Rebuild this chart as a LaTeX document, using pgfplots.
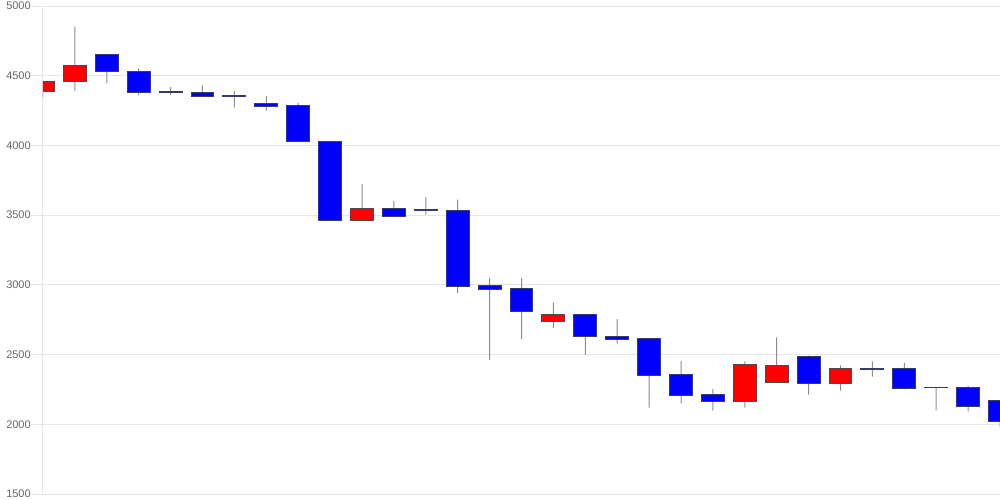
\documentclass[border=0pt]{standalone}
\usepackage{fontspec}
\setmainfont{Liberation Sans}
\usepackage{pgfplots}
\usepackage{pgfplotstable}
\pgfplotsset{compat=1.18}
\definecolor{gridc}{HTML}{E6E6E6}
\definecolor{tickc}{HTML}{666666}
\definecolor{upc}{HTML}{FF0000}
\definecolor{dnc}{HTML}{0000FF}
\definecolor{dnb}{HTML}{3A3A66}
\definecolor{upb}{HTML}{4A4A55}
\definecolor{wickc}{HTML}{8C8C8C}

\pgfplotstableread{
x O H L C
0 4390 4462 4345 4462
1 4460 4852 4393 4572
2 4654 4654 4446 4529
3 4532 4550 4362 4381
4 4384 4418 4360 4382
5 4383 4431 4350 4350
6 4355 4390 4273 4353
7 4302 4354 4249 4281
8 4283 4304 4030 4030
9 4030 4030 3463 3463
10 3463 3723 3463 3551
11 3551 3601 3492 3492
12 3544 3630 3503 3530
13 3535 3611 2942 2987
14 2992 3049 2461 2970
15 2975 3049 2610 2810
16 2739 2872 2691 2784
17 2784 2784 2499 2628
18 2633 2755 2578 2610
19 2612 2612 2119 2349
20 2354 2454 2150 2210
21 2212 2253 2098 2160
22 2160 2452 2119 2432
23 2301 2624 2301 2423
24 2483 2492 2212 2291
25 2291 2423 2241 2401
26 2401 2452 2341 2391
27 2401 2440 2251 2258
28 2263 2263 2100 2261
29 2262 2275 2093 2129
30 2172 2172 1983 2021
}\data

\begin{document}
\begin{tikzpicture}
\pgfplotsset{cs/.style={scale only axis, width=717.75pt, height=366pt,
  xmin=0, xmax=30, ymin=1500, ymax=5000, at={(0,0)}, anchor=south west}}
\begin{axis}[cs,
  axis x line=none, axis y line*=left,
  y axis line style={gridc, line width=0.75pt},
  ytick={1500,2000,...,5000},
  ymajorgrids, grid style={gridc, line width=0.75pt},
  tick style={gridc, line width=0.75pt}, tick align=outside, major tick length=9pt,
  yticklabel style={font=\fontsize{8.25}{10}\selectfont, text=tickc, inner sep=0pt},
  /pgf/number format/assume math mode=true, /pgf/number format/1000 sep={},
  ybar stacked, bar width=0.75pt]
\addplot[draw=none, fill=none] table[x=x, y=L]{\data};
\addplot[draw=none, fill=wickc] table[x=x, y expr=\thisrow{H}-\thisrow{L}]{\data};
\end{axis}
\begin{axis}[cs, hide axis, ybar stacked, bar width=0.72]
\addplot[draw=none, fill=none] table[x=x, y expr={min(\thisrow{O},\thisrow{C})}]{\data};
\addplot[draw=dnb, fill=dnc, line width=0.75pt] table[x=x, y expr={max(\thisrow{O}-\thisrow{C},0)}]{\data};
\addplot[draw=upb, fill=upc, line width=0.75pt] table[x=x, y expr={max(\thisrow{C}-\thisrow{O},0)}]{\data};
\end{axis}
\pgfresetboundingbox
\path[use as bounding box] (-32.25pt,-4.5pt) rectangle (717.75pt,370.5pt);
\end{tikzpicture}
\end{document}
